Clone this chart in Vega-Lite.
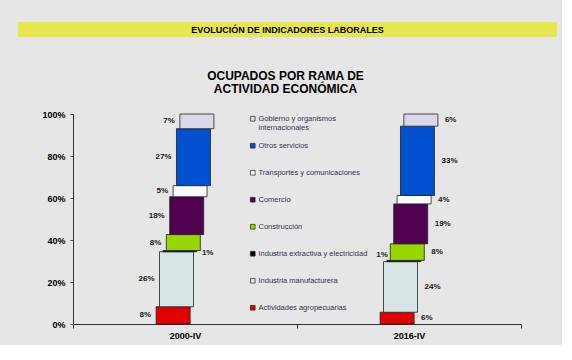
{
  "$schema": "https://vega.github.io/schema/vega-lite/v6.json",
  "background": "#E6E6E6",
  "padding": {"left": 18, "top": 22, "right": 5, "bottom": 5},
  "config": {
    "font": "Liberation Sans",
    "view": {"stroke": null},
    "axis": {"labelOverlap": false, "labelBound": false, "labelSeparation": 0},
    "axisQuantitative": {"labelOverlap": false, "tickCount": 10},
    "axisY": {"labelOverlap": false, "tickCount": 10, "labelFlush": false}
  },
  "datasets": {
    "cabecera": [{"texto": "EVOLUCIÓN DE INDICADORES LABORALES"}],
    "ocupados": [
      {"periodo": "2000-IV", "sector": "Actividades agropecuarias", "orden": 1, "valor": 0.082},
      {"periodo": "2000-IV", "sector": "Industria manufacturera", "orden": 2, "valor": 0.262},
      {"periodo": "2000-IV", "sector": "Industria extractiva y electricidad", "orden": 3, "valor": 0.006},
      {"periodo": "2000-IV", "sector": "Construcción", "orden": 4, "valor": 0.076},
      {"periodo": "2000-IV", "sector": "Comercio", "orden": 5, "valor": 0.180},
      {"periodo": "2000-IV", "sector": "Transportes y comunicaciones", "orden": 6, "valor": 0.053},
      {"periodo": "2000-IV", "sector": "Otros servicios", "orden": 7, "valor": 0.271},
      {"periodo": "2000-IV", "sector": "Gobierno y organismos internacionales", "orden": 8, "valor": 0.070},
      {"periodo": "2016-IV", "sector": "Actividades agropecuarias", "orden": 1, "valor": 0.056},
      {"periodo": "2016-IV", "sector": "Industria manufacturera", "orden": 2, "valor": 0.241},
      {"periodo": "2016-IV", "sector": "Industria extractiva y electricidad", "orden": 3, "valor": 0.006},
      {"periodo": "2016-IV", "sector": "Construcción", "orden": 4, "valor": 0.079},
      {"periodo": "2016-IV", "sector": "Comercio", "orden": 5, "valor": 0.190},
      {"periodo": "2016-IV", "sector": "Transportes y comunicaciones", "orden": 6, "valor": 0.040},
      {"periodo": "2016-IV", "sector": "Otros servicios", "orden": 7, "valor": 0.330},
      {"periodo": "2016-IV", "sector": "Gobierno y organismos internacionales", "orden": 8, "valor": 0.058}
    ]
  },
  "spacing": 33,
  "vconcat": [
    {
      "width": 539,
      "height": 15,
      "view": {"fill": "#E6E64E", "stroke": null},
      "data": {"name": "cabecera"},
      "mark": {"type": "text", "fontWeight": "bold", "fontSize": 9, "color": "#000000", "font": "Liberation Sans"},
      "encoding": {"text": {"field": "texto"}}
    },
    {
      "width": 503,
      "height": 210,
      "title": {
        "text": ["OCUPADOS POR RAMA DE", "ACTIVIDAD ECONÓMICA"],
        "fontSize": 12,
        "fontWeight": "bold",
        "font": "Liberation Sans",
        "color": "#000000",
        "anchor": "middle",
        "frame": "group",
        "dx": 16,
        "offset": 14,
        "lineHeight": 13
      },
      "data": {"name": "ocupados"},
      "transform": [
        {"stack": "valor", "groupby": ["periodo"], "sort": [{"field": "orden", "order": "ascending"}], "as": ["v0", "v1"]},
        {"calculate": "(datum.v0 + datum.v1) / 2", "as": "medio"}
      ],
      "encoding": {
        "x": {
          "field": "periodo",
          "type": "nominal",
          "scale": {"paddingInner": 0, "paddingOuter": 0, "range": [55, 503]},
          "axis": {
            "title": null,
            "labelAngle": 0,
            "labelFontWeight": "bold",
            "labelFontSize": 9,
            "labelColor": "#000000",
            "labelFont": "Liberation Sans",
            "tickBand": "extent",
            "tickSize": 4,
            "tickColor": "#333333",
            "domainColor": "#333333",
            "labelPadding": 3
          }
        },
        "xOffset": {
          "field": "orden",
          "type": "ordinal",
          "scale": {
            "paddingInner": 0,
            "paddingOuter": 0,
            "domain": [-28,-27,-26,-25,-24,-23,-22,-21,-20,-19,-18,-17,-16,-15,-14,-13,-12,-11,-10,-9,-8,-7,-6,-5,-4,-3,-2,-1,0,1,2,3,4,5,6,7,8,9,10,11,12,13,14,15,16,17,18,19,20,21,22,23,24,25,26,27,28,29,30,31,32,33,34,35,36,37]
          }
        }
      },
      "layer": [
        {
          "mark": {"type": "bar", "width": 34, "stroke": "#222222", "strokeWidth": 0.8},
          "encoding": {
            "y": {
              "field": "v0",
              "type": "quantitative",
              "scale": {"domain": [0, 1], "nice": false},
              "axis": {
                "title": null,
                "offset": -55,
                "values": [0, 0.1, 0.2, 0.3, 0.4, 0.5, 0.6, 0.7, 0.8, 0.9, 1],
                "tickCount": 10,
                "format": ".0%",
                "grid": false,
                "labelOverlap": false,
                "labelFontWeight": "bold",
                "labelFontSize": 9,
                "labelColor": "#000000",
                "labelFont": "Liberation Sans",
                "tickSize": 3,
                "tickColor": "#555555",
                "domainColor": "#333333",
                "labelPadding": 5
              }
            },
            "y2": {"field": "v1"},
            "color": {
              "field": "sector",
              "type": "nominal",
              "scale": {
                "domain": ["Gobierno y organismos internacionales", "Otros servicios", "Transportes y comunicaciones", "Comercio", "Construcción", "Industria extractiva y electricidad", "Industria manufacturera", "Actividades agropecuarias"],
                "range": ["#D9D9E9", "#0050D0", "#FAFAFA", "#4F004F", "#99D500", "#000000", "#D6E6E6", "#E00000"]
              },
              "legend": {
                "orient": "none",
                "legendX": 231,
                "legendY": 93,
                "title": null,
                "padding": 0,
                "gridAlign": "all",
                "symbolType": "square",
                "symbolSize": 22,
                "symbolStrokeColor": "#222222",
                "symbolStrokeWidth": 0.7,
                "labelFontSize": 7.5,
                "labelFont": "Liberation Sans",
                "labelColor": "#333355",
                "labelOffset": 2,
                "labelLimit": 200,
                "rowPadding": 9,
                "labelExpr": "datum.label == 'Gobierno y organismos internacionales' ? ['Gobierno y organismos', 'internacionales'] : datum.label"
              }
            }
          }
        },
        {
          "transform": [{"filter": "datum.periodo == '2000-IV' && datum.orden != 3"}],
          "mark": {"type": "text", "align": "right", "baseline": "middle", "dx": -22, "fontSize": 8, "fontWeight": "bold", "color": "#1A1A1A"},
          "encoding": {
            "y": {"field": "medio", "type": "quantitative", "axis": {"title": null, "offset": -55, "values": [0, 0.1, 0.2, 0.3, 0.4, 0.5, 0.6, 0.7, 0.8, 0.9, 1], "tickCount": 10, "format": ".0%", "grid": false, "labelOverlap": false}},
            "text": {"field": "valor", "format": ".0%"}
          }
        },
        {
          "transform": [{"filter": "datum.periodo == '2016-IV' && datum.orden != 3"}],
          "mark": {"type": "text", "align": "left", "baseline": "middle", "dx": 24, "fontSize": 8, "fontWeight": "bold", "color": "#1A1A1A"},
          "encoding": {
            "y": {"field": "medio", "type": "quantitative", "axis": {"title": null, "offset": -55, "values": [0, 0.1, 0.2, 0.3, 0.4, 0.5, 0.6, 0.7, 0.8, 0.9, 1], "tickCount": 10, "format": ".0%", "grid": false, "labelOverlap": false}},
            "text": {"field": "valor", "format": ".0%"}
          }
        },
        {
          "transform": [{"filter": "datum.periodo == '2000-IV' && datum.orden == 3"}],
          "mark": {"type": "text", "align": "left", "baseline": "middle", "dx": 22, "dy": 2, "fontSize": 8, "fontWeight": "bold", "color": "#1A1A1A"},
          "encoding": {
            "y": {"field": "medio", "type": "quantitative", "axis": {"title": null, "offset": -55, "values": [0, 0.1, 0.2, 0.3, 0.4, 0.5, 0.6, 0.7, 0.8, 0.9, 1], "tickCount": 10, "format": ".0%", "grid": false, "labelOverlap": false}},
            "text": {"field": "valor", "format": ".0%"}
          }
        },
        {
          "transform": [{"filter": "datum.periodo == '2016-IV' && datum.orden == 3"}],
          "mark": {"type": "text", "align": "right", "baseline": "middle", "dx": -16, "dy": -6, "fontSize": 8, "fontWeight": "bold", "color": "#1A1A1A"},
          "encoding": {
            "y": {"field": "medio", "type": "quantitative", "axis": {"title": null, "offset": -55, "values": [0, 0.1, 0.2, 0.3, 0.4, 0.5, 0.6, 0.7, 0.8, 0.9, 1], "tickCount": 10, "format": ".0%", "grid": false, "labelOverlap": false}},
            "text": {"field": "valor", "format": ".0%"}
          }
        }
      ]
    }
  ]
}
